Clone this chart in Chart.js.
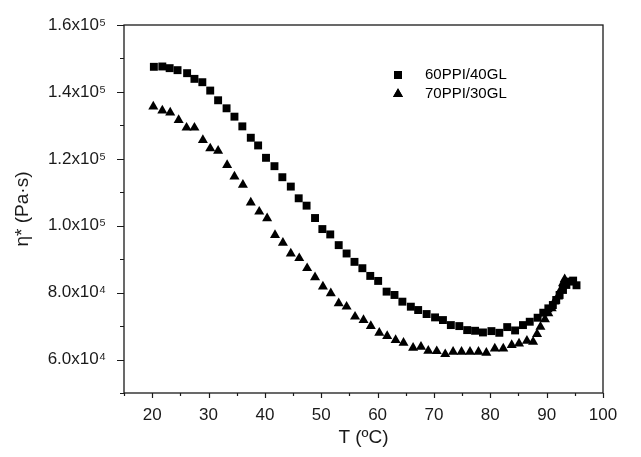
<!DOCTYPE html>
<html>
<head>
<meta charset="utf-8">
<script src="https://cdn.jsdelivr.net/npm/chart.js@4/dist/chart.umd.min.js"></script>
<style>
  html, body { margin: 0; padding: 0; background: #fff; }
  #wrap { width: 641px; height: 457px; }
</style>
</head>
<body>
<div id="wrap"><canvas id="viscChart" width="641" height="457"></canvas></div>
<script>
// 60PPI/40GL (squares)
const tempA = [20.3, 21.8, 23.1, 24.5, 26.2, 27.5, 28.9, 30.3, 31.7, 33.2, 34.6, 36.0, 37.5, 38.8, 40.2, 41.7, 43.1, 44.6, 46.0, 47.4,
    48.9, 50.2, 51.6, 53.1, 54.5, 55.9, 57.3, 58.7, 60.1, 61.6, 63.0, 64.4, 65.9, 67.2, 68.7, 70.2, 71.6, 73.0, 74.5, 75.9,
    77.3, 78.7, 80.2, 81.6, 83.0, 84.4, 85.8, 87.0, 88.4, 89.4, 90.3, 91.1, 91.7, 92.3, 92.9, 93.5, 94.1, 94.7, 95.3];
const etaA = [147500, 147600, 147100, 146500, 145600, 143900, 142900, 140400, 137500, 135100, 132600, 129700, 126300, 124000, 120300, 117800, 114500, 111700, 108200, 106000,
    102300, 99000, 97400, 94200, 91700, 89200, 87300, 85000, 83500, 80300, 79300, 77300, 75800, 74800, 73600, 72600, 71800, 70300, 70000, 68800,
    68600, 68100, 68500, 68000, 69700, 68700, 70300, 71300, 72500, 74000, 75300, 76300, 77800, 79300, 80800, 82300, 83300, 83600, 82200];

// 70PPI/30GL (triangles)
const tempB = [20.2, 21.8, 23.2, 24.7, 26.1, 27.5, 29.0, 30.3, 31.7, 33.3, 34.6, 36.1, 37.5, 39.0, 40.4, 41.8, 43.2, 44.6, 46.1, 47.5,
    48.9, 50.3, 51.7, 53.1, 54.5, 56.0, 57.5, 58.8, 60.3, 61.7, 63.2, 64.6, 66.3, 67.7, 69.0, 70.5, 72.0, 73.4, 74.9, 76.4,
    77.9, 79.3, 80.8, 82.3, 83.8, 85.1, 86.5, 87.6, 88.3, 88.9, 89.7, 90.3, 90.9, 91.4, 92.0, 92.5, 92.9, 93.2];
const etaB = [135600, 134400, 133800, 131600, 129300, 129300, 125600, 123100, 122400, 118100, 114700, 112200, 106900, 104200, 102200, 97200, 94900, 91700, 90300, 87300,
    84600, 81800, 79800, 76800, 75800, 72800, 71800, 70000, 68000, 67000, 65800, 65000, 63500, 63800, 62600, 62500, 61600, 62300, 62300, 62300,
    62300, 62000, 63300, 63300, 64300, 64800, 65600, 65300, 67600, 69800, 72000, 73800, 75300, 77300, 78800, 80800, 82800, 84000];

const seriesNames = ['60PPI/40GL', '70PPI/30GL'];
const xTickLabels = [20, 30, 40, 50, 60, 70, 80, 90, 100];
const yTickLabels = ['6.0x10⁴', '8.0x10⁴', '1.0x10⁵', '1.2x10⁵', '1.4x10⁵', '1.6x10⁵'];
const yTickValues = [60000, 80000, 100000, 120000, 140000, 160000];

const FONT = '"Liberation Sans", Arial, "DejaVu Sans", sans-serif';
const INK = '#1a1a1a';

const toPoints = (xs, ys) => xs.map((x, i) => ({ x: x, y: ys[i] }));

// frame, tick marks and legend
const decorPlugin = {
    id: 'decor',
    afterDraw(chart) {
        const ctx = chart.ctx;
        const a = chart.chartArea;
        const xs = chart.scales.x;
        const ys = chart.scales.y;
        ctx.save();
        ctx.strokeStyle = INK;
        ctx.lineWidth = 1.3;
        ctx.strokeRect(a.left, a.top, a.right - a.left, a.bottom - a.top);

        ctx.lineWidth = 1.2;
        ctx.beginPath();
        xs.ticks.forEach(t => {
            const px = Math.round(xs.getPixelForValue(t.value)) + 0.5;
            const len = t.value % 10 === 0 ? 5 : 3;
            ctx.moveTo(px, a.bottom);
            ctx.lineTo(px, a.bottom + len);
        });
        ys.ticks.forEach(t => {
            const py = Math.round(ys.getPixelForValue(t.value)) + 0.5;
            const len = t.value % 20000 === 0 ? 7 : 4;
            ctx.moveTo(a.left, py);
            ctx.lineTo(a.left - len, py);
        });
        ctx.stroke();

        // legend
        const lx = 398, ly = [75, 94];
        ctx.font = '15px ' + FONT;
        ctx.textBaseline = 'middle';
        chart.data.datasets.forEach((ds, i) => {
            ctx.fillStyle = '#000';
            Chart.helpers.drawPoint(ctx, {
                pointStyle: ds.pointStyle,
                radius: ds.pointRadius,
                borderWidth: 0,
                rotation: 0
            }, lx, ly[i]);
            ctx.fill();
            ctx.fillText(seriesNames[i], 425, ly[i]);
        });
        ctx.restore();
    }
};

new Chart(document.getElementById('viscChart'), {
    type: 'scatter',
    data: {
        datasets: [{
            label: seriesNames[0],
            data: toPoints(tempA, etaA),
            pointStyle: 'rect',
            pointRadius: 5.6,
            pointHoverRadius: 5.6,
            backgroundColor: '#000',
            borderColor: '#000',
            borderWidth: 0
        }, {
            label: seriesNames[1],
            data: toPoints(tempB, etaB),
            pointStyle: 'triangle',
            pointRadius: 5.8,
            pointHoverRadius: 5.8,
            backgroundColor: '#000',
            borderColor: '#000',
            borderWidth: 0
        }]
    },
    options: {
        responsive: false,
        animation: false,
        events: [],
        layout: { padding: { top: 25, right: 38, left: 0, bottom: 0 } },
        plugins: {
            legend: { display: false },
            tooltip: { enabled: false }
        },
        scales: {
            x: {
                type: 'linear',
                min: 15,
                max: 100,
                afterFit: s => { s.height = 64; },
                grid: { display: false },
                border: { display: false },
                ticks: {
                    stepSize: 5,
                    autoSkip: false,
                    maxRotation: 0,
                    padding: 4,
                    color: INK,
                    font: { family: FONT, size: 17 },
                    callback: v => xTickLabels.includes(v) ? String(v) : ''
                },
                title: {
                    display: true,
                    text: 'T (ºC)',
                    color: INK,
                    font: { family: FONT, size: 19 },
                    padding: { top: 0, bottom: 8 }
                }
            },
            y: {
                type: 'linear',
                min: 50000,
                max: 160000,
                afterFit: s => { s.width = 124; },
                grid: { display: false },
                border: { display: false },
                ticks: {
                    stepSize: 10000,
                    autoSkip: false,
                    padding: 10,
                    color: INK,
                    font: { family: FONT, size: 17 },
                    callback: v => {
                        const i = yTickValues.indexOf(v);
                        return i >= 0 ? yTickLabels[i] : '';
                    }
                },
                title: {
                    display: true,
                    text: 'η* (Pa·s)',
                    color: INK,
                    font: { family: FONT, size: 19 },
                    padding: { top: 11, bottom: 0 }
                }
            }
        }
    },
    plugins: [decorPlugin]
});
</script>
</body>
</html>
